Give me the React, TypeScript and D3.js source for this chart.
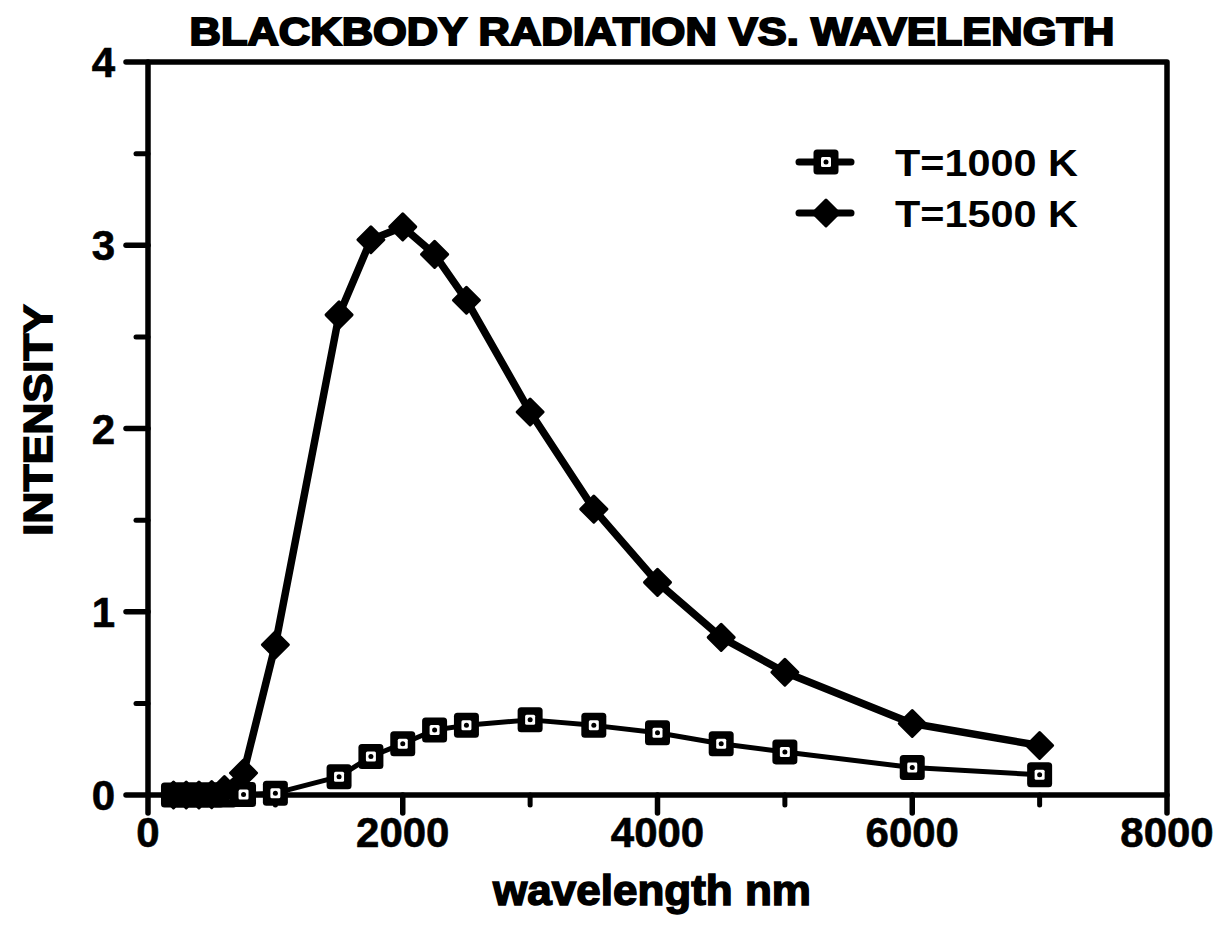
import React from "react";
import * as d3 from "d3";

const wavelengths = [200, 300, 400, 500, 600, 750, 1000, 1500, 1750, 2000, 2250, 2500, 3000, 3500, 4000, 4500, 5000, 6000, 7000];
const intensity1000 = [0, 0, 0, 0, 0, 0.003, 0.01, 0.1, 0.21, 0.28, 0.355, 0.38, 0.41, 0.38, 0.34, 0.28, 0.235, 0.15, 0.11];
const intensity1500 = [0, 0, 0, 0.002, 0.03, 0.12, 0.82, 2.62, 3.03, 3.1, 2.95, 2.7, 2.09, 1.56, 1.16, 0.86, 0.67, 0.39, 0.27];
const seriesNames = ["T=1000 K", "T=1500 K"];
const xTicks = [0, 2000, 4000, 6000, 8000];
const xMinorTicks = [1000, 3000, 5000, 7000];
const yTicks = [0, 1, 2, 3, 4];
const yMinorTicks = [0.5, 1.5, 2.5, 3.5];
const title = "BLACKBODY RADIATION VS. WAVELENGTH";
const xTitle = "wavelength nm";
const yTitle = "INTENSITY";

const W = 1225, H = 947;
const L = 148, R = 1167, T = 62, B = 795;
const FONT = "'Liberation Sans', Arial, Helvetica, sans-serif";

function Square({ x, y }: { x: number; y: number }) {
  return (
    <g transform={`translate(${x},${y})`}>
      <rect x={-12.5} y={-12.5} width={25} height={25} rx={3.5} fill="#000" />
      <rect x={-5} y={-5} width={10} height={10} rx={1.5} fill="#fff" />
      <circle r={2.5} fill="#000" />
    </g>
  );
}

function Diamond({ x, y }: { x: number; y: number }) {
  return <path transform={`translate(${x},${y})`} d="M0,-13 L13,0 L0,13 L-13,0 Z" fill="#000" stroke="#000" strokeWidth={3} strokeLinejoin="round" />;
}

export default function App() {
  const x = d3.scaleLinear().domain([0, 8000]).range([L, R]);
  const y = d3.scaleLinear().domain([0, 4]).range([B, T]);
  const line = d3.line<[number, number]>().x((d) => x(d[0])).y((d) => y(d[1]));
  const d1000: [number, number][] = wavelengths.map((w, i) => [w, intensity1000[i]]);
  const d1500: [number, number][] = wavelengths.map((w, i) => [w, intensity1500[i]]);
  const legendY = [162, 213];

  return (
    <svg width={W} height={H} style={{ position: "absolute", left: 0, top: 0, background: "#fff" }} fontFamily={FONT}>
      <rect x={0} y={0} width={W} height={H} fill="#fff" />
      {/* title */}
      <text x={652} y={45} textAnchor="middle" fontSize={39} fontWeight="bold" stroke="#000" strokeWidth={2}
        textLength={925} lengthAdjust="spacingAndGlyphs">{title}</text>

      {/* frame */}
      <rect x={L} y={T} width={R - L} height={B - T} fill="none" stroke="#000" strokeWidth={5.5} strokeLinejoin="round" />

      {/* y ticks */}
      {yTicks.map((t) => (
        <g key={"y" + t}>
          <line x1={L - 22} x2={L} y1={y(t)} y2={y(t)} stroke="#000" strokeWidth={5.5} strokeLinecap="round" />
          <text x={115} y={y(t)} dy="0.36em" textAnchor="end" fontSize={42} fontWeight="bold" stroke="#000" strokeWidth={0.6}>{t}</text>
        </g>
      ))}
      {yMinorTicks.map((t) => (
        <line key={"ym" + t} x1={L - 12} x2={L} y1={y(t)} y2={y(t)} stroke="#000" strokeWidth={5} strokeLinecap="round" />
      ))}

      {/* x ticks */}
      {xTicks.map((t) => (
        <g key={"x" + t}>
          <line x1={x(t)} x2={x(t)} y1={B} y2={B + 18} stroke="#000" strokeWidth={5.5} strokeLinecap="round" />
          <text x={x(t)} y={847} textAnchor="middle" fontSize={42} fontWeight="bold" stroke="#000" strokeWidth={0.6}>{t}</text>
        </g>
      ))}
      {xMinorTicks.map((t) => (
        <line key={"xm" + t} x1={x(t)} x2={x(t)} y1={B} y2={B + 10} stroke="#000" strokeWidth={5} strokeLinecap="round" />
      ))}

      {/* axis titles */}
      <text x={652} y={905} textAnchor="middle" fontSize={42} fontWeight="bold" stroke="#000" strokeWidth={1.5}
        textLength={318} lengthAdjust="spacingAndGlyphs">{xTitle}</text>
      <text transform={`translate(52,420) rotate(-90)`} textAnchor="middle" fontSize={41} fontWeight="bold" stroke="#000" strokeWidth={1.5}
        textLength={232} lengthAdjust="spacingAndGlyphs">{yTitle}</text>

      {/* series lines */}
      <path d={line(d1000) || ""} fill="none" stroke="#000" strokeWidth={5} strokeLinejoin="round" strokeLinecap="round" />
      <path d={line(d1500) || ""} fill="none" stroke="#000" strokeWidth={7.5} strokeLinejoin="round" strokeLinecap="round" />
      {d1000.map((d, i) => <Square key={"s" + i} x={x(d[0])} y={y(d[1])} />)}
      {d1500.map((d, i) => <Diamond key={"d" + i} x={x(d[0])} y={y(d[1])} />)}

      {/* legend */}
      <g>
        <line x1={799} x2={851} y1={legendY[0]} y2={legendY[0]} stroke="#000" strokeWidth={7} strokeLinecap="round" />
        <Square x={826} y={legendY[0]} />
        <text x={895} y={legendY[0] + 14} fontSize={37} fontWeight="bold" textLength={183} lengthAdjust="spacingAndGlyphs">{seriesNames[0]}</text>
        <line x1={799} x2={851} y1={legendY[1]} y2={legendY[1]} stroke="#000" strokeWidth={7} strokeLinecap="round" />
        <Diamond x={826} y={legendY[1]} />
        <text x={895} y={legendY[1] + 14} fontSize={37} fontWeight="bold" textLength={183} lengthAdjust="spacingAndGlyphs">{seriesNames[1]}</text>
      </g>
    </svg>
  );
}
